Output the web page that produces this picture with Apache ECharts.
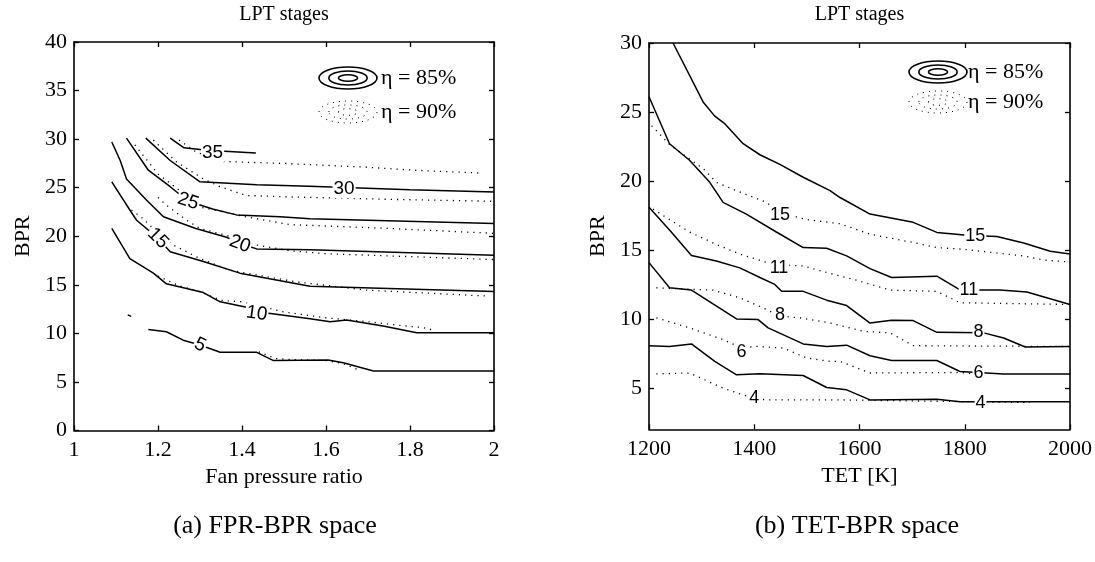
<!DOCTYPE html>
<html><head><meta charset="utf-8">
<script src="https://cdn.jsdelivr.net/npm/echarts@6/dist/echarts.min.js"></script>
<style>html,body{margin:0;padding:0;background:#fff}#c{width:1095px;height:562px}</style>
</head><body><div id="c"></div>
<script>
// ---------- Data: (a) FPR-BPR space ----------
const fprXTicks = [1, 1.2, 1.4, 1.6, 1.8, 2];
const fprYTicks = [0, 5, 10, 15, 20, 25, 30, 35, 40];
// eta = 85% (solid)
const fpr85_35 = [[1.229,30.1],[1.262,29.1],[1.316,28.86],[1.433,28.58]];
const fpr85_30 = [[1.171,30.1],[1.229,27.8],[1.3,25.6],[1.435,25.3],[1.56,25.15],[1.8,24.8],[2,24.55]];
const fpr85_25 = [[1.125,30.1],[1.177,26.8],[1.229,25.1],[1.272,23.6],[1.33,22.8],[1.387,22.2],[1.49,22.0],[1.562,21.8],[2,21.3]];
const fpr85_20 = [[1.09,29.7],[1.11,27.8],[1.125,25.9],[1.173,23.7],[1.213,22.0],[1.29,20.8],[1.363,19.9],[1.395,19.26],[1.435,18.7],[1.562,18.6],[2,18.05]];
const fpr85_15 = [[1.09,25.6],[1.133,22.7],[1.149,21.65],[1.2,19.8],[1.229,18.4],[1.308,17.4],[1.395,16.2],[1.562,14.85],[2,14.3]];
const fpr85_10 = [[1.09,20.8],[1.133,17.7],[1.189,16.2],[1.22,15.1],[1.308,14.2],[1.348,13.25],[1.411,12.7],[1.435,12.05],[1.459,12.1],[1.562,11.5],[1.61,11.2],[1.649,11.37],[1.736,10.75],[1.816,10.06],[2,10.06]];
const fpr85_5 = [[1.177,10.4],[1.22,10.17],[1.26,9.3],[1.3,8.8],[1.348,8.05],[1.435,8.05],[1.475,7.2],[1.605,7.25],[1.641,6.97],[1.713,6.12],[2,6.12]];
const fpr85_blip = [[1.128,11.9],[1.136,11.75]];
// eta = 90% (dotted)
const fpr90_35 = [[1.25,29.9],[1.29,28.7],[1.35,27.7],[1.5,27.5],[1.7,27.1],[1.81,26.8],[1.97,26.5]];
const fpr90_30 = [[1.189,29.9],[1.244,27.65],[1.308,25.9],[1.348,25.1],[1.41,24.2],[1.514,24.05],[1.75,23.8],[2,23.6]];
const fpr90_25 = [[1.145,29.4],[1.2,26.4],[1.252,24.7],[1.3,23.0],[1.41,22.0],[1.514,21.2],[1.75,20.8],[2,20.3]];
const fpr90_20 = [[1.2,24.0],[1.22,23.2],[1.268,21.65],[1.3,20.8],[1.37,20.0],[1.435,19.1],[1.514,18.5],[1.6,18.2],[2,17.6]];
const fpr90_15 = [[1.137,22.7],[1.165,21.8],[1.2,20.3],[1.236,19.1],[1.3,17.7],[1.371,16.5],[1.411,16.2],[1.53,15.3],[1.697,14.45],[1.98,13.85]];
const fpr90_10 = [[1.2,15.9],[1.25,14.9],[1.3,14.3],[1.35,13.4],[1.4,13.25],[1.5,12.2],[1.6,11.6],[1.7,11.2],[1.77,10.85],[1.83,10.6],[1.86,10.3]];
const fpr90_5 = [[1.44,8.1],[1.48,7.4],[1.52,7.3],[1.6,7.2],[1.64,6.9],[1.68,6.2]];
const fprLabelText = ['35','30','25','20','15','10','5'];
const fprLabelPos = [[1.33,28.6],[1.643,24.9],[1.272,23.6],[1.395,19.2],[1.2,19.8],[1.435,12.05],[1.3,8.8]];
const fprLabelRot = [0,0,-18,-20,-45,-8,-25];

// ---------- Data: (b) TET-BPR space ----------
const tetXTicks = [1200, 1400, 1600, 1800, 2000];
const tetYTicks = [5, 10, 15, 20, 25, 30];
const tet85_15 = [[1245.7,30],[1302.8,25.73],[1325,24.7],[1344,24.15],[1378.9,22.7],[1410.7,21.9],[1448.7,21.2],[1493,20.27],[1544,19.3],[1563,18.8],[1620,17.6],[1702,17.0],[1747,16.27],[1804,16.07],[1861,15.97],[1912,15.5],[1962.5,14.9],[2000,14.7]];
const tet85_11 = [[1200,26.1],[1239,22.7],[1277,21.5],[1315.5,19.9],[1340.8,18.45],[1385,17.6],[1442,16.3],[1493,15.17],[1537.6,15.12],[1575.6,14.57],[1620,13.65],[1661,13.0],[1747,13.1],[1791,12.1],[1867,12.1],[1918,11.95],[2000,11.05]];
const tet85_8 = [[1200,18.1],[1239,16.45],[1280.7,14.6],[1328,14.2],[1372.6,13.7],[1410.7,13.0],[1439,12.5],[1452,12.0],[1493,12.0],[1537.6,11.36],[1575.6,10.97],[1620,9.7],[1661,9.9],[1702,9.88],[1747,9.03],[1836,8.99],[1874,8.62],[1915,7.97],[2000,8.0]];
const tet85_6 = [[1200,14.08],[1239,12.26],[1280.7,12.09],[1366.3,10.0],[1407.4,9.95],[1426.4,9.35],[1493,8.19],[1537.6,8.0],[1575.6,8.1],[1620,7.33],[1661,6.99],[1747,6.99],[1791,6.19],[1874,6.0],[2000,6.0]];
const tet85_4 = [[1200,8.06],[1239,8.0],[1280.7,8.19],[1325,6.92],[1366.3,5.95],[1410.7,6.02],[1493,5.9],[1537.6,5.03],[1575.6,4.86],[1620,4.13],[1747,4.18],[1791,4.0],[2000,4.0]];
const tet90_15 = [[1205,24.0],[1240,22.6],[1277,21.6],[1303,20.9],[1328,19.9],[1366,19.3],[1423,18.45],[1449,17.7],[1500,17.2],[1563,16.9],[1620,16.14],[1702,15.54],[1747,15.17],[1797,15.05],[1912,14.56],[1950,14.27],[2000,14.12]];
const tet90_11 = [[1207.6,17.96],[1258,16.75],[1277,16.3],[1328,15.4],[1372.6,14.7],[1436,13.95],[1493,13.84],[1544,13.3],[1601,12.74],[1658,12.09],[1747,12.0],[1791,11.17],[2000,11.05]];
const tet90_8 = [[1214,12.26],[1280.7,12.14],[1322,12.09],[1372.6,11.53],[1417,10.8],[1448.7,10.2],[1487,10.08],[1544,9.71],[1607,9.1],[1658,8.99],[1702,8.06],[2000,8.0]];
const tet90_6 = [[1214,10.08],[1277,9.35],[1341,8.5],[1376,7.9],[1404,8.01],[1455,7.89],[1499.5,7.17],[1544,6.92],[1563,6.92],[1620,6.08],[1791,6.12],[1815,6.02]];
const tet90_4 = [[1214,6.02],[1277,6.08],[1341,4.98],[1398,4.25],[1423,4.13],[1563,4.13],[1924,3.94]];
const tetLabelText = ['15','11','8','6','4','15','11','8','6','4'];
const tetLabelPos = [[1820,16.0],[1808,12.07],[1826,9.03],[1826,6.1],[1830,3.94],[1449,17.55],[1447,13.7],[1449,10.25],[1376,7.57],[1400,4.3]];

const titleText = 'LPT stages';
const legendText = ['η = 85%', 'η = 90%'];
const captions = ['(a) FPR-BPR space', '(b) TET-BPR space'];
const xNames = ['Fan pressure ratio', 'TET [K]'];
const yName = 'BPR';

// ---------- Chart ----------
const SERIF = '"Liberation Serif", "Times New Roman", serif';
const SANS = '"Liberation Sans", Arial, sans-serif';
const BLACK = '#000';
const tickFont = {fontFamily: SERIF, fontSize: 22, color: BLACK};

const grids = [
  {left: 74, top: 42, width: 420, height: 388.5},
  {left: 649, top: 43, width: 421, height: 386.3}
];

function axLine(){ return {show: true, onZero: false, lineStyle: {color: BLACK, width: 1.6}}; }
function axTick(vals){ return {show: true, inside: true, length: 5, lineStyle: {color: BLACK, width: 1.3}, customValues: vals}; }

const xAxis = [
  {gridIndex:0, type:'value', min:1, max:2, interval:0.2, position:'bottom',
   axisLine: axLine(), axisTick: axTick(fprXTicks), splitLine:{show:false},
   axisLabel: Object.assign({margin:9, customValues: fprXTicks, formatter: v => (Math.abs(v-1)<1e-9||Math.abs(v-2)<1e-9) ? String(Math.round(v)) : v.toFixed(1)}, tickFont),
   name: xNames[0], nameLocation:'middle', nameGap:33, nameTextStyle: {fontFamily: SERIF, fontSize: 22, color: BLACK}},
  {gridIndex:0, type:'value', min:1, max:2, interval:0.2, position:'top',
   axisLine: axLine(), axisTick: axTick(fprXTicks), axisLabel:{show:false}, splitLine:{show:false}},
  {gridIndex:1, type:'value', min:1200, max:2000, interval:200, position:'bottom',
   axisLine: axLine(), axisTick: axTick(tetXTicks), splitLine:{show:false},
   axisLabel: Object.assign({margin:9, customValues: tetXTicks, formatter: v => String(Math.round(v))}, tickFont),
   name: xNames[1], nameLocation:'middle', nameGap:33, nameTextStyle: {fontFamily: SERIF, fontSize: 22, color: BLACK}},
  {gridIndex:1, type:'value', min:1200, max:2000, interval:200, position:'top',
   axisLine: axLine(), axisTick: axTick(tetXTicks), axisLabel:{show:false}, splitLine:{show:false}}
];
const yAxis = [
  {gridIndex:0, type:'value', min:0, max:40, interval:5, position:'left',
   axisLine: axLine(), axisTick: axTick(fprYTicks), splitLine:{show:false},
   axisLabel: Object.assign({margin:7, customValues: fprYTicks, formatter: v => String(Math.round(v))}, tickFont),
   name: yName, nameLocation:'middle', nameGap:40, nameRotate:90, nameTextStyle:{fontFamily: SERIF, fontSize: 22, color: BLACK}},
  {gridIndex:0, type:'value', min:0, max:40, interval:5, position:'right',
   axisLine: axLine(), axisTick: axTick(fprYTicks), axisLabel:{show:false}, splitLine:{show:false}},
  {gridIndex:1, type:'value', min:2, max:30, position:'left',
   axisLine: axLine(), axisTick: axTick(tetYTicks), splitLine:{show:false},
   axisLabel: Object.assign({margin:7, customValues: tetYTicks, formatter: v => String(Math.round(v))}, tickFont),
   name: yName, nameLocation:'middle', nameGap:40, nameRotate:90, nameTextStyle:{fontFamily: SERIF, fontSize: 22, color: BLACK}},
  {gridIndex:1, type:'value', min:2, max:30, position:'right',
   axisLine: axLine(), axisTick: axTick(tetYTicks), axisLabel:{show:false}, splitLine:{show:false}}
];

const series = [];
function addLine(data, gi, dotted){
  series.push({type:'line', data: data, xAxisIndex: gi*2, yAxisIndex: gi*2, showSymbol:false, symbol:'none',
    silent:true, clip:true, z:2,
    lineStyle: dotted ? {color: BLACK, width: 1.3, type: [1.2, 5]} : {color: BLACK, width: 1.5}});
}
[fpr85_35, fpr85_30, fpr85_25, fpr85_20, fpr85_15, fpr85_10, fpr85_5, fpr85_blip].forEach(d => addLine(d, 0, false));
[fpr90_35, fpr90_30, fpr90_25, fpr90_20, fpr90_15, fpr90_10, fpr90_5].forEach(d => addLine(d, 0, true));
[tet85_15, tet85_11, tet85_8, tet85_6, tet85_4].forEach(d => addLine(d, 1, false));
[tet90_15, tet90_11, tet90_8, tet90_6, tet90_4].forEach(d => addLine(d, 1, true));

function addLabels(pos, text, rot, gi, fs){
  series.push({type:'scatter', xAxisIndex: gi*2, yAxisIndex: gi*2, symbolSize: 0, silent:true, z:5,
    itemStyle:{color: BLACK, opacity: 1},
    data: pos.map((p,i) => ({value: p, name: text[i], label: {rotate: rot ? rot[i] : 0}})),
    label: {show:true, position:'inside', formatter:'{b}', color: BLACK, opacity: 1, fontFamily: SANS, fontSize: fs,
      textBorderWidth: 0, backgroundColor:'#fff', padding:[0,1,0,1]}});
}
addLabels(fprLabelPos, fprLabelText, fprLabelRot, 0, 19);
addLabels(tetLabelPos, tetLabelText, null, 1, 18);

// legend icons / titles / captions as graphic elements
function legendGroup(cx, cy, tx, gap){
  const els = [];
  [[1,1],[0.66,0.64],[0.33,0.3]].forEach(([fx,fy]) => {
    els.push({type:'ellipse', shape:{cx:cx, cy:cy, rx:29*fx, ry:11*fy}, style:{fill:'none', stroke:BLACK, lineWidth:1.6}});
    els.push({type:'ellipse', shape:{cx:cx, cy:cy+gap, rx:29*fx, ry:11*fy}, style:{fill:'none', stroke:BLACK, lineWidth:1, lineDash:[1,5]}});
  });
  els.push({type:'text', x:tx, y:cy, style:{text: legendText[0], font:'22px ' + SERIF, fill:BLACK, align:'left', verticalAlign:'middle', textAlign:'left', textVerticalAlign:'middle'}});
  els.push({type:'text', x:tx, y:cy+gap, style:{text: legendText[1], font:'22px ' + SERIF, fill:BLACK, align:'left', verticalAlign:'middle', textAlign:'left', textVerticalAlign:'middle'}});
  return els;
}
function centeredText(x, y, t, size, family){
  return {type:'text', x:x, y:y, style:{text:t, font: size + 'px ' + family, fill:BLACK, align:'center', verticalAlign:'middle', textAlign:'center', textVerticalAlign:'middle'}};
}
const graphic = [].concat(
  legendGroup(348, 78, 381, 34),
  legendGroup(938, 72, 968, 30),
  [centeredText(284, 15, titleText, 20, SERIF), centeredText(859.5, 15, titleText, 20, SERIF),
   centeredText(275, 526, captions[0], 26, SERIF), centeredText(857, 526, captions[1], 26, SERIF)]
);

const chart = echarts.init(document.getElementById('c'), null, {renderer:'canvas'});
chart.setOption({animation:false, backgroundColor:'#fff', grid: grids, xAxis: xAxis, yAxis: yAxis, series: series, graphic: graphic});
</script></body></html>
